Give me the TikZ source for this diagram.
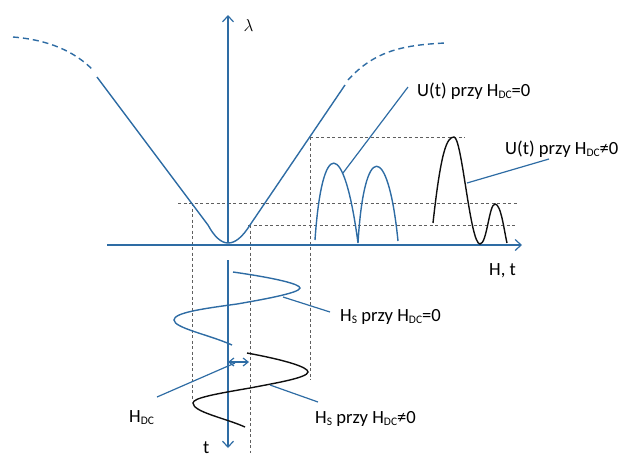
\documentclass[tikz,border=0pt]{standalone}
\usepackage{fontspec}
\setmainfont{Carlito}
\usepackage{tikz}
\usetikzlibrary{arrows.meta, positioning}
\usepackage{xcolor}
\definecolor{curveblue}{RGB}{46,108,164}
\definecolor{guidegray}{RGB}{95,95,95}
\definecolor{dark}{RGB}{15,15,15}
\newcommand{\lowtext}[1]{\raisebox{-0.3ex}{\fontsize{11.5}{12}\selectfont #1}}

\begin{document}
\begin{tikzpicture}[
    x=1pt, y=-1pt,
    axis/.style={curveblue, line width=1.4pt, -{Straight Barb[length=6pt, width=11pt, line width=1.2pt]}},
    curve/.style={curveblue, line width=1.4pt},
    blackcurve/.style={dark, line width=1.4pt},
    guide/.style={guidegray, line width=0.7pt, dash pattern=on 3pt off 2.5pt},
    leader/.style={curveblue, line width=1.2pt},
    lab/.style={font=\fontsize{18.6}{20}\selectfont, inner sep=0pt, anchor=base west},
]
\useasboundingbox (0,0) rectangle (621,459);

% Guide lines
\draw[guide] (178,203) -- (517,203);
\draw[guide] (248,225) -- (515,225);
\draw[guide] (310,137) -- (465,137);
\draw[guide] (192,203) -- (192,400);
\draw[guide] (250,225) -- (250,453);
\draw[guide] (310,137) -- (310,380);

% Axes
\coordinate (origin) at (228,243);
\coordinate (lamtip) at (228,15);
\coordinate (hstart) at (107,245);
\coordinate (htip) at (522,245);
\coordinate (tstart) at (228,260);
\coordinate (ttip) at (228,448);
\draw[axis] (origin) -- (lamtip);
\draw[axis] (hstart) -- (htip);
\draw[axis] (tstart) -- (ttip);
\node[font=\fontsize{16}{18}\selectfont, right=12pt of lamtip, yshift=-10pt] (lamlab) {$\lambda$};
\node[lab] (htlab) at (489,275) {H, t};
\node[lab] (tlab) at (203,453) {t};

% Lambda(H) curve
\draw[curve, dash pattern=on 6pt off 4pt] (13,37) .. controls (50,40) and (75,52) .. (93,70);
\draw[curve] (97,77) -- (208,225) .. controls (221,249) and (235,249) .. (250,225) -- (345,85);
\draw[curve, dash pattern=on 6pt off 4pt] (348,80) .. controls (375,50) and (405,45) .. (445,43);

% U(t) signals
\draw[curve] (315,240) .. controls (322,137) and (344,137) .. (358,243)
    .. controls (364,141) and (388,141) .. (398,241);
\draw[blackcurve] (433,223) .. controls (441,150) and (447,137) .. (454,137)
    .. controls (462,137) and (470,244) .. (480,244)
    .. controls (487,244) and (489,204) .. (495,204)
    .. controls (501,204) and (504,230) .. (507,243);

% H_S signals
\draw[curve] (233,272) .. controls (275,278) and (300,284) .. (300,288)
    .. controls (300,293) and (260,300) .. (237,304)
    .. controls (200,309) and (174,313) .. (174,320)
    .. controls (174,328) and (210,335) .. (232,345);
\draw[blackcurve] (247,353) .. controls (285,360) and (308,367) .. (308,372)
    .. controls (308,378) and (270,384) .. (250,388)
    .. controls (215,394) and (193,398) .. (193,403)
    .. controls (193,412) and (225,418) .. (245,427);

% H_DC offset
\coordinate (hdcL) at (228,362);
\coordinate (hdcR) at (249,362);
\draw[curveblue, line width=1.2pt, {Straight Barb[length=5pt, width=8pt]}-{Straight Barb[length=5pt, width=8pt]}] (hdcL) -- (hdcR);

% Labels
\node[lab] (u0lab) at (417,96) {U(t) przy H\lowtext{DC}=0};
\node[lab] (u1lab) at (505,154) {U(t) przy H\lowtext{DC}≠0};
\node[lab] (hs0lab) at (340,321) {H\lowtext{S} przy H\lowtext{DC}=0};
\node[lab] (hs1lab) at (315,423) {H\lowtext{S} przy H\lowtext{DC}≠0};
\node[lab] (hdclab) at (129,422) {H\lowtext{DC}};

% Leaders
\coordinate (u0foot) at (343,173);   \coordinate (u0end) at (408,87);
\coordinate (u1foot) at (467,183);   \coordinate (u1end) at (549,159);
\coordinate (hs0foot) at (283,297);  \coordinate (hs0end) at (330,312);
\coordinate (hs1foot) at (270,385);  \coordinate (hs1end) at (318,402);
\coordinate (hdcfoot) at (235,363);  \coordinate (hdcend) at (157,397);
\draw[leader] (u0foot) -- (u0end);
\draw[leader] (u1foot) -- (u1end);
\draw[leader] (hs0foot) -- (hs0end);
\draw[leader] (hs1foot) -- (hs1end);
\draw[leader] (hdcfoot) -- (hdcend);

\end{tikzpicture}
\end{document}
